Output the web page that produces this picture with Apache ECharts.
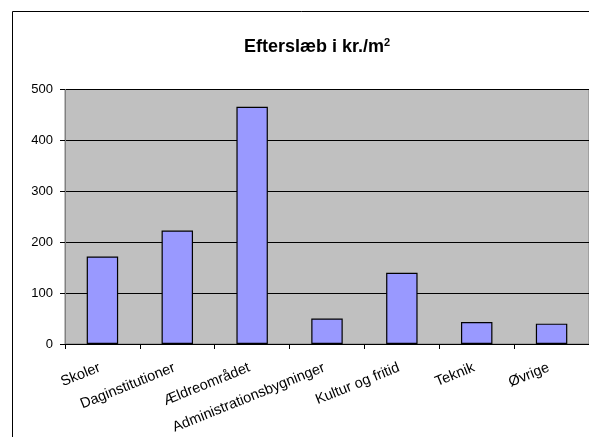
<!DOCTYPE html>
<html><head><meta charset="utf-8">
<script src="https://cdn.jsdelivr.net/npm/echarts@6/dist/echarts.min.js"></script>
<style>html,body{margin:0;padding:0;background:#fff}#c{width:589px;height:437px}</style>
</head><body><div id="c"></div>
<script>
const categories = ['Skoler','Daginstitutioner','Ældreområdet','Administrationsbygninger','Kultur og fritid','Teknik','Øvrige'];
const values = [172, 223, 466, 50, 140, 43, 40];
const yTicks = [0, 100, 200, 300, 400, 500];

const chart = echarts.init(document.getElementById('c'));
chart.setOption({
  animation: false,
  backgroundColor: '#fff',
  title: {
    text: '{a|Efterslæb i kr./m}{s|2}',
    left: 312, top: 32, textAlign: 'center',
    textStyle: {
      rich: {
        a: {fontFamily: 'Liberation Sans, Arial', fontWeight: 'bold', fontSize: 18, color: '#000'},
        s: {fontFamily: 'Liberation Sans, Arial', fontWeight: 'bold', fontSize: 11, color: '#000', verticalAlign: 'top', padding: [0,0,9,0]}
      }
    }
  },
  graphic: [{
    type: 'rect', shape: {x: 12.5, y: 11.5, width: 620, height: 460},
    style: {fill: 'none', stroke: '#000', lineWidth: 1}, z: 100, silent: true
  }],
  grid: {left: 65, top: 89.5, width: 530, height: 254.5, show: true, backgroundColor: '#C0C0C0', borderColor: '#808080', borderWidth: 1},
  xAxis: {
    type: 'category', data: categories,
    axisLine: {lineStyle: {color: '#000', width: 1}},
    axisTick: {show: true, length: 5, lineStyle: {color: '#000'}},
    axisLabel: {rotate: 22, fontFamily: 'Liberation Sans, Arial', fontSize: 14.5, color: '#000', margin: 22, interval: 0, padding: [0, 3, 0, 0]}
  },
  yAxis: {
    type: 'value', min: yTicks[0], max: yTicks[yTicks.length-1], interval: 100,
    axisLine: {show: true, lineStyle: {color: '#808080'}},
    axisTick: {show: true, length: 5, lineStyle: {color: '#000'}},
    splitLine: {lineStyle: {color: '#000', width: 1}},
    axisLabel: {fontFamily: 'Liberation Sans, Arial', fontSize: 13, color: '#000', margin: 12}
  },
  series: [{
    type: 'bar', data: values, barWidth: '42%',
    itemStyle: {color: '#9999FF', borderColor: '#000', borderWidth: 1.2}
  }]
});
</script></body></html>
